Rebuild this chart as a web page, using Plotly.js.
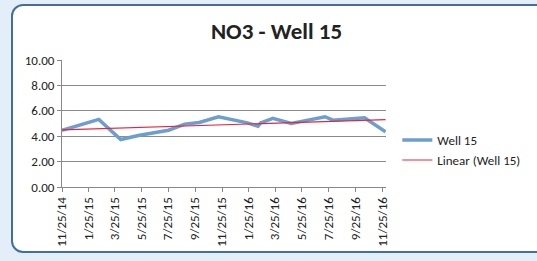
<!DOCTYPE html>
<html>
<head>
<meta charset="utf-8">
<script src="https://cdn.plot.ly/plotly-3.0.1.min.js"></script>
<style>
  html, body { margin: 0; padding: 0; width: 537px; height: 261px; overflow: hidden; background: #e4eef8; }
  #frame { position: absolute; left: 11px; top: 4px; width: 540px; height: 245px; background: #ffffff;
           border: 2px solid #426f9f; border-radius: 12px; }
  #chart { position: absolute; left: 0; top: 0; width: 537px; height: 261px; }
</style>
</head>
<body>
<div id="frame"></div>
<div id="chart"></div>
<script>
// Sample dates and NO3 values
const dates = ['2014-11-25','2015-02-17','2015-04-08','2015-05-21','2015-07-26','2015-09-01',
               '2015-10-04','2015-11-17','2016-01-22','2016-02-15','2016-02-21','2016-03-20',
               '2016-05-01','2016-06-03','2016-07-17','2016-08-04','2016-10-15','2016-12-02'];
const no3 = [4.47, 5.32, 3.74, 4.08, 4.47, 4.95, 5.08, 5.53, 5.05, 4.79, 5.05, 5.40,
             5.00, 5.21, 5.53, 5.26, 5.45, 4.34];
const tickDates = ['2014-11-25','2015-01-25','2015-03-25','2015-05-25','2015-07-25','2015-09-25',
                   '2015-11-25','2016-01-25','2016-03-25','2016-05-25','2016-07-25','2016-09-25','2016-11-25'];
const tickLabels = ['11/25/14','1/25/15','3/25/15','5/25/15','7/25/15','9/25/15',
                    '11/25/15','1/25/16','3/25/16','5/25/16','7/25/16','9/25/16','11/25/16'];
const yTicks = [0, 2, 4, 6, 8, 10];
const yTickLabels = ['0.00','2.00','4.00','6.00','8.00','10.00'];

// Linear trendline (least squares fit of the series)
const t = dates.map(d => new Date(d + 'T00:00:00Z').getTime() / 86400000);
const n = t.length;
const mt = t.reduce((a, b) => a + b, 0) / n;
const my = no3.reduce((a, b) => a + b, 0) / n;
let sxy = 0, sxx = 0;
for (let i = 0; i < n; i++) { sxy += (t[i] - mt) * (no3[i] - my); sxx += (t[i] - mt) ** 2; }
const slope = sxy / sxx, icpt = my - slope * mt;
const trendX = [dates[0], dates[n - 1]];
const trendY = [icpt + slope * t[0], icpt + slope * t[n - 1]];

const font = 'Carlito, Lato, "Open Sans", sans-serif';

const data = [
  { x: dates, y: no3, type: 'scatter', mode: 'lines', name: 'Well 15',
    line: { color: '#6b9fcf', width: 3.5 } },
  { x: trendX, y: trendY, type: 'scatter', mode: 'lines', name: 'Linear (Well 15)',
    line: { color: '#e8243c', width: 1.2 } }
];

const layout = {
  width: 537, height: 261,
  margin: { l: 62, r: 140, t: 60, b: 74 },
  paper_bgcolor: 'rgba(0,0,0,0)', plot_bgcolor: 'rgba(0,0,0,0)',
  font: { family: font, color: '#222', size: 13 },
  title: { text: '<b>NO3 - Well 15</b>', x: 0.515, xanchor: 'center', y: 0.88, yanchor: 'middle',
           font: { family: font, size: 23, color: '#222' } },
  xaxis: {
    type: 'date', range: ['2014-11-25', '2016-12-03'],
    tickmode: 'array', tickvals: tickDates, ticktext: tickLabels, tickangle: -90,
    ticks: 'outside', ticklen: 4, tickcolor: '#888', showgrid: false,
    showline: true, linecolor: '#888', linewidth: 1, zeroline: false,
    tickfont: { family: font, size: 13, color: '#222' }
  },
  yaxis: {
    range: [0, 10], tickmode: 'array', tickvals: yTicks, ticktext: yTickLabels,
    ticks: 'outside', ticklen: 4, tickcolor: '#888',
    showgrid: true, gridcolor: '#8a8a8a', gridwidth: 1,
    showline: true, linecolor: '#888', linewidth: 1, zeroline: false,
    tickfont: { family: font, size: 13, color: '#222' }
  },
  showlegend: true,
  legend: { x: 1.035, xanchor: 'left', y: 0.29, yanchor: 'middle', bgcolor: 'rgba(0,0,0,0)',
            font: { family: font, size: 13, color: '#222' }, tracegroupgap: 6 }
};

Plotly.newPlot('chart', data, layout, { displayModeBar: false, staticPlot: true });
</script>
</body>
</html>
